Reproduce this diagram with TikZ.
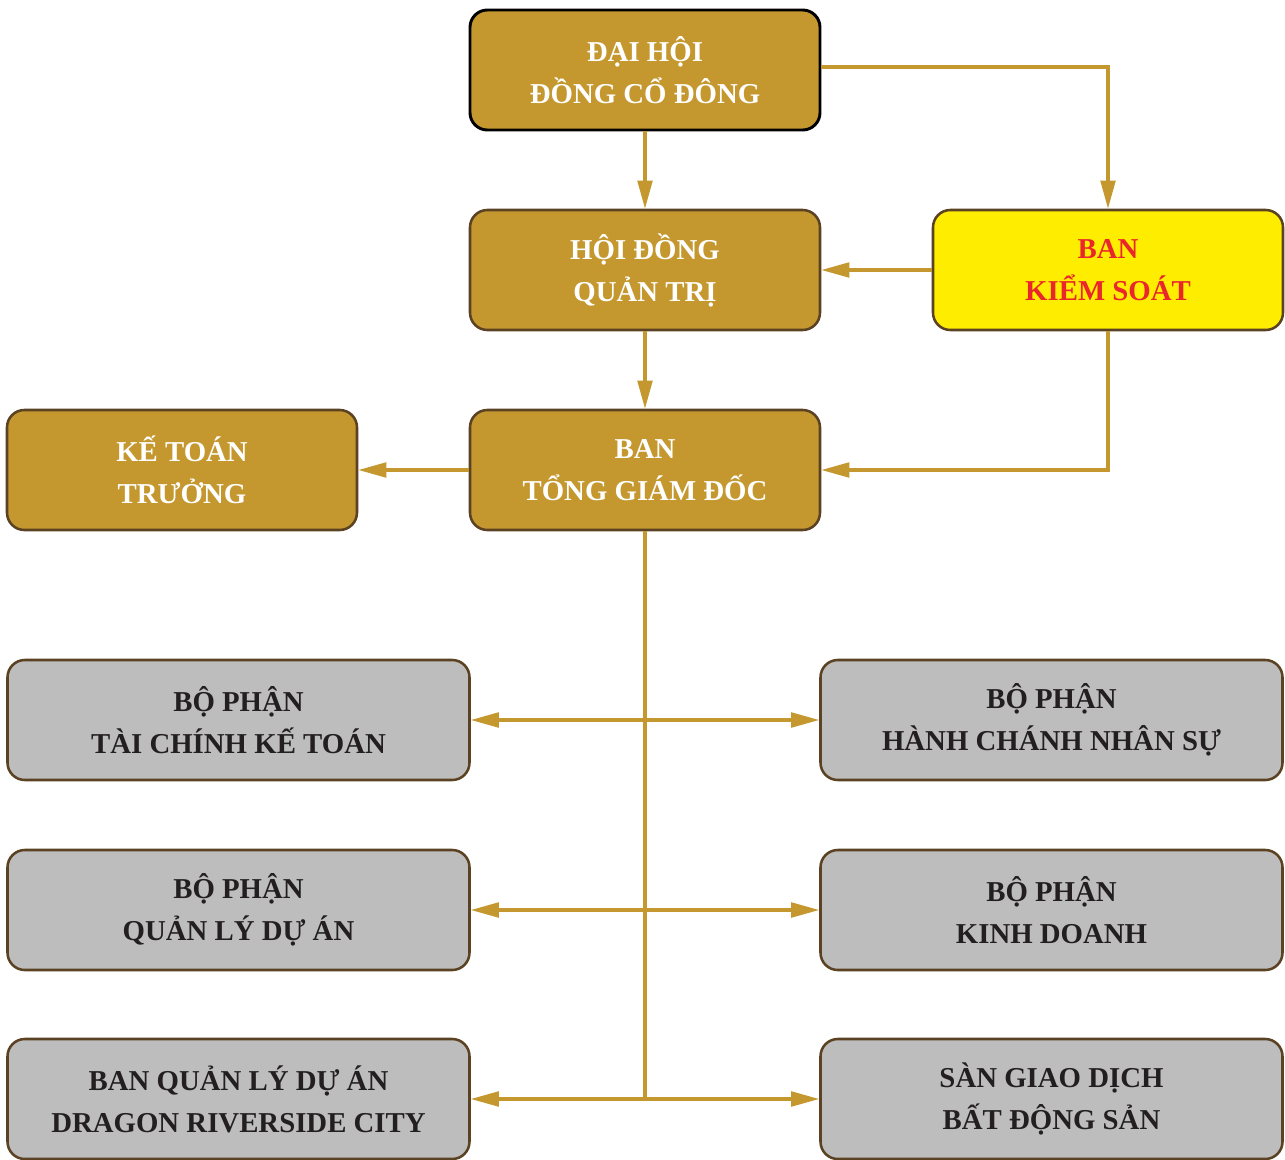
\documentclass[tikz,border=0pt]{standalone}
\usepackage{fontspec}
\setmainfont{Liberation Serif}
\usetikzlibrary{arrows.meta}

\definecolor{gold}{HTML}{C4982F}
\definecolor{boxline}{HTML}{5A4222}
\definecolor{grayfill}{HTML}{BDBDBD}
\definecolor{kstext}{HTML}{E8262B}
\definecolor{ksfill}{HTML}{FFED00}
\definecolor{darktext}{HTML}{231F20}

\tikzset{
  unit/.style={draw=boxline, line width=1.9pt, rounded corners=13pt,
    minimum width=262.5pt, minimum height=90pt, align=center,
    font=\fontsize{21.6}{31.5}\selectfont\bfseries},
  board/.style={unit, fill=gold, text=white},
  dept/.style={unit, fill=grayfill, text=darktext, minimum width=346.5pt},
  link/.style={draw=gold, line width=2.3pt}
}

\begin{document}
\begin{tikzpicture}[x=0.75pt, y=-0.75pt, node distance=150pt,
  >={Triangle[length=21pt, width=11pt]}]

  \useasboundingbox (0,0) rectangle (1285,1160);

  \node (dhcd) [board, draw=black, line width=2.2pt] at (645,70) {ĐẠI HỘI\\ĐỒNG CỔ ĐÔNG};
  \node (hdqt) [board, below of=dhcd] {HỘI ĐỒNG\\QUẢN TRỊ};
  \node (btgd) [board, below of=hdqt] {BAN\\TỔNG GIÁM ĐỐC};
  \node (bks) [unit, fill=ksfill, text=kstext] at (1108,270) {BAN\\KIỂM SOÁT};
  \node (ktt) [board] at (182,470) {KẾ TOÁN\\TRƯỞNG};

  \node (tckt) [dept] at (238.5,720) {BỘ PHẬN\\TÀI CHÍNH KẾ TOÁN};
  \node (hcns) [dept] at (1051.5,720) {BỘ PHẬN\\HÀNH CHÁNH NHÂN SỰ};
  \node (qlda) [dept] at (238.5,910) {BỘ PHẬN\\QUẢN LÝ DỰ ÁN};
  \node (kd) [dept] at (1051.5,910) {BỘ PHẬN\\KINH DOANH};
  \node (bql) [dept] at (238.5,1099) {BAN QUẢN LÝ DỰ ÁN\\DRAGON RIVERSIDE CITY};
  \node (sgd) [dept] at (1051.5,1099) {SÀN GIAO DỊCH\\BẤT ĐỘNG SẢN};

  \draw [link, ->] (dhcd) -- (hdqt);
  \draw [link, ->] ([yshift=2.25pt]dhcd.east) -| (bks.north);
  \draw [link, ->] (bks) -- (hdqt);
  \draw [link, ->] (hdqt) -- (btgd);
  \draw [link, ->] (bks.south) |- (btgd.east);
  \draw [link, ->] (btgd) -- (ktt);

  \draw [link] (btgd.south) -- (btgd.south |- bql.east);
  \draw [link, <->] (tckt) -- (hcns);
  \draw [link, <->] (qlda) -- (kd);
  \draw [link, <->] (bql) -- (sgd);

\end{tikzpicture}
\end{document}
